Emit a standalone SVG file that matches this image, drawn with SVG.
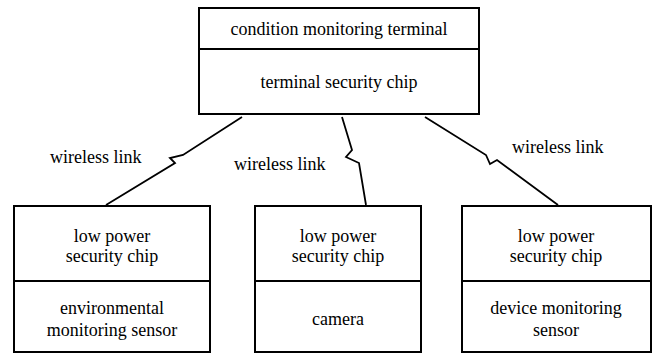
<svg xmlns="http://www.w3.org/2000/svg" width="660" height="354" viewBox="0 0 660 354">
<style>
.box{fill:#fff;stroke:#000;stroke-width:2}
.div{stroke:#000;stroke-width:2}
text{font-family:"Liberation Serif","DejaVu Serif",serif;font-size:18px;fill:#000}
.t{text-anchor:middle}
.link{fill:none;stroke:#000;stroke-width:1.8;stroke-linejoin:miter}
</style>
<rect width="660" height="354" fill="#fff"/>
<g id="connectors" font-family="Liberation Serif, serif">
<polyline class="link" points="242,117 183,155 170,158 175,163 106,205"/>
<polyline class="link" points="342,117 352,150 346,157 359,163 366,205"/>
<polyline class="link" points="425,117 486,155 490,164 497,160 558,205"/>
<text x="50" y="163">wireless link</text>
<text x="234" y="170">wireless link</text>
<text x="512" y="153">wireless link</text>
</g>
<g id="terminal" font-family="Liberation Serif, serif">
<rect class="box" x="199" y="8" width="280" height="106"/>
<line class="div" x1="199" y1="49" x2="479" y2="49"/>
<text class="t" x="339" y="35">condition monitoring terminal</text>
<text class="t" x="339" y="88">terminal security chip</text>
</g>
<g id="env" font-family="Liberation Serif, serif">
<rect class="box" x="14" y="206" width="196" height="146"/>
<line class="div" x1="14" y1="281" x2="210" y2="281"/>
<text class="t" x="112" y="242">low power</text>
<text class="t" x="112" y="262">security chip</text>
<text class="t" x="112" y="314">environmental</text>
<text class="t" x="112" y="336">monitoring sensor</text>
</g>
<g id="camera" font-family="Liberation Serif, serif">
<rect class="box" x="255" y="206" width="166" height="146"/>
<line class="div" x1="255" y1="281" x2="421" y2="281"/>
<text class="t" x="338" y="242">low power</text>
<text class="t" x="338" y="262">security chip</text>
<text class="t" x="338" y="325">camera</text>
</g>
<g id="device" font-family="Liberation Serif, serif">
<rect class="box" x="462" y="206" width="189" height="146"/>
<line class="div" x1="462" y1="281" x2="651" y2="281"/>
<text class="t" x="556" y="242">low power</text>
<text class="t" x="556" y="262">security chip</text>
<text class="t" x="556" y="314">device monitoring</text>
<text class="t" x="556" y="336">sensor</text>
</g>
</svg>
